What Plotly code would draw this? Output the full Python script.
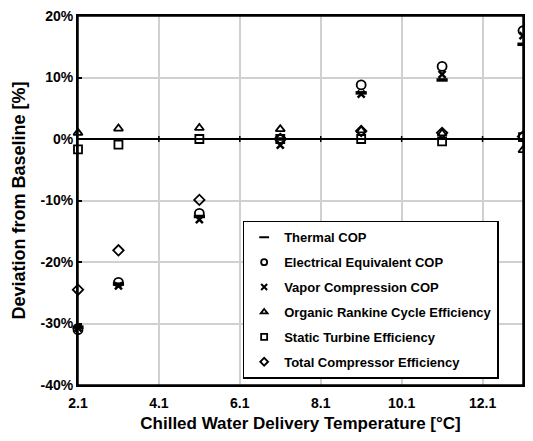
import plotly.graph_objects as go

temps = [2.1, 3.1, 5.1, 7.1, 9.1, 11.1, 13.1]
thermal_cop = [-30.6, -23.6, -12.6, 0.0, 7.5, 9.6, 15.4]
electrical_cop = [-31.0, -23.3, -12.1, 0.0, 8.8, 11.8, 17.6]
vapor_cop = [-30.7, -23.9, -13.1, -1.0, 7.3, 10.5, 16.8]
orc_eff = [1.0, 1.7, 1.8, 1.6, 1.4, 0.9, -1.8]
turbine_eff = [-1.7, -0.9, 0.0, 0.0, 0.0, -0.4, 0.3]
compressor_eff = [-24.5, -18.1, -9.9, 0.0, 1.3, 1.0, 0.4]

x_ticks = [2.1, 4.1, 6.1, 8.1, 10.1, 12.1]
y_ticks = [-40, -30, -20, -10, 0, 10, 20]

FONT = "Liberation Sans, Arial, sans-serif"

series = [
    ("Thermal COP", thermal_cop, "line-ew-open", 8, 3.5, 7),
    ("Electrical Equivalent COP", electrical_cop, "circle-open", 9, 1.8, 6),
    ("Vapor Compression COP", vapor_cop, "x-thin-open", 7, 2.5, 6),
    ("Organic Rankine Cycle Efficiency", orc_eff, "triangle-up-open", 8, 1.8, 6),
    ("Static Turbine Efficiency", turbine_eff, "square-open", 8, 1.8, 6),
    ("Total Compressor Efficiency", compressor_eff, "diamond-open", 8, 1.8, 6),
]

fig = go.Figure()
for i, (name, vals, sym, sz, lw, lsz) in enumerate(series):
    fig.add_trace(go.Scatter(
        x=temps, y=vals, mode="markers", name=name, showlegend=False,
        marker=dict(symbol=sym, size=sz, color="black",
                    line=dict(color="black", width=lw)),
        cliponaxis=False,
    ))
for i, (name, vals, sym, sz, lw, lsz) in enumerate(series):
    fig.add_trace(go.Scatter(
        x=[None], y=[None], mode="markers", name=name, legendgroup=f"g{i}",
        marker=dict(symbol=sym, size=lsz, color="black",
                    line=dict(color="black", width=min(lw, 2))),
    ))

shapes = [
    dict(type="line", xref="paper", yref="y", x0=0, x1=1, y0=0, y1=0,
         line=dict(color="black", width=2), layer="above"),
    dict(type="rect", xref="paper", yref="paper", x0=0, x1=1, y0=0, y1=1,
         line=dict(color="black", width=1.5), layer="above"),
]
for t in x_ticks[1:]:
    shapes.append(dict(type="line", xref="x", yref="paper", x0=t, x1=t,
                       y0=(0 + 40) / 60 - 0.008, y1=(0 + 40) / 60 + 0.008,
                       line=dict(color="black", width=1.5), layer="above"))

fig.update_layout(
    width=517, height=425,
    margin=dict(l=70, r=2, t=8, b=48, autoexpand=False),
    paper_bgcolor="white", plot_bgcolor="white",
    font=dict(family=FONT, color="black", size=14, weight="bold"),
    showlegend=True,
    shapes=shapes,
    legend=dict(
        x=0.37, y=0.445, xanchor="left", yanchor="top",
        bgcolor="white", bordercolor="black", borderwidth=1.5,
        font=dict(family=FONT, size=13, color="black", weight="bold"),
        traceorder="grouped", tracegroupgap=5,
        itemwidth=30,
    ),
    xaxis=dict(
        range=[2.1, 13.1], tickvals=x_ticks, ticktext=[f"{t:.1f}" for t in x_ticks],
        showgrid=True, gridcolor="#d0d0d0", gridwidth=1.5,
        showline=True, linecolor="black", linewidth=1.5, mirror=True,
        ticks="outside", ticklen=4, tickcolor="rgba(0,0,0,0)", zeroline=False,
        ticklabeloverflow="allow", automargin=False,
        title=dict(text="Chilled Water Delivery Temperature [°C]",
                   font=dict(size=17, family=FONT, weight="bold"), standoff=10),
        tickfont=dict(size=14, family=FONT, weight="bold"),
    ),
    yaxis=dict(
        range=[-40, 20], tickvals=y_ticks, ticktext=[f"{v}%" for v in y_ticks],
        showgrid=True, gridcolor="#d0d0d0", gridwidth=1.5,
        showline=True, linecolor="black", linewidth=2, mirror=True,
        ticks="inside", ticklen=4, tickcolor="black", tickwidth=1.5,
        zeroline=False, ticklabeloverflow="allow", automargin=False,
        title=dict(text="Deviation from Baseline [%]",
                   font=dict(size=18, family=FONT, weight="bold"), standoff=10),
        tickfont=dict(size=14, family=FONT, weight="bold"),
    ),
)

fig.write_html("out.html")
